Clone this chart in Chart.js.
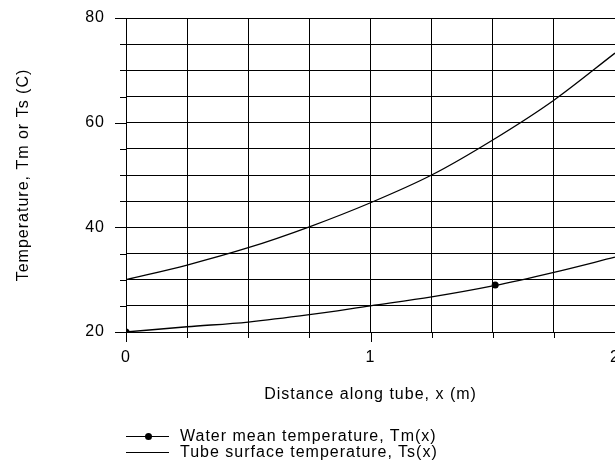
<!DOCTYPE html>
<html>
<head>
<meta charset="utf-8">
<script src="https://cdn.jsdelivr.net/npm/chart.js@4/dist/chart.umd.min.js"></script>
<style>
  html, body { margin: 0; padding: 0; background: #fff; }
  #wrap { position: relative; width: 615px; height: 462px; }
  #chart { position: absolute; left: 0; top: 0; }
  .legend-row {
    position: absolute; left: 126px; height: 16px;
    font: 16px "Liberation Sans", Arial, sans-serif; letter-spacing: 1px; color: #000;
    display: flex; align-items: center; white-space: nowrap;
  }
  .legend-line { position: relative; width: 43px; height: 1px; background: #000; margin-right: 11px; }
  .legend-dot { position: absolute; left: 19px; top: -3px; width: 7px; height: 7px; border-radius: 50%; background: #000; }
</style>
</head>
<body>
<div id="wrap">
  <canvas id="chart" width="615" height="462"></canvas>
  <div class="legend-row" style="top:428px"><span class="legend-line"><span class="legend-dot"></span></span>Water mean temperature, Tm(x)</div>
  <div class="legend-row" style="top:444px"><span class="legend-line"></span>Tube surface temperature, Ts(x)</div>
</div>
<script>
// values
const xValues = [0, 0.25, 0.5, 0.75, 1, 1.25, 1.5, 1.75, 2];
const tmValues = [20, 21.0, 21.9, 23.3, 25.0, 26.7, 28.8, 31.4, 34.3];
const tsValues = [30, 32.8, 36.1, 40.1, 44.7, 50.0, 56.7, 64.3, 73.3];
const markerX = [0, 1.51];
const markerY = [20, 29.0];

const xTickLabels = ['0', '1', '2'];
const yTickLabels = ['20', '40', '60', '80'];

const FONT = { family: '"Liberation Sans", Arial, sans-serif', size: 16 };

// no automatic padding around the axes
function fixBox(size) {
  return s => {
    if (s.isHorizontal()) s.height = size; else s.width = size;
    s.paddingLeft = s.paddingRight = s.paddingTop = s.paddingBottom = 0;
  };
}

// wide letter spacing like the original, plus tick marks
const tickMarks = {
  id: 'tickMarks',
  beforeDraw(chart) {
    chart.ctx.letterSpacing = '1px';
  },
  afterDraw(chart) {
    const { ctx, chartArea } = chart;
    const xs = chart.scales.x, ys = chart.scales.y;
    ctx.save();
    ctx.strokeStyle = '#000';
    ctx.lineWidth = 1;
    ctx.beginPath();
    xs.ticks.forEach(t => {
      const px = Math.round(xs.getPixelForValue(t.value)) + 0.5;
      const len = xTickLabels.includes(String(t.value)) ? 10 : 6;
      ctx.moveTo(px, chartArea.bottom);
      ctx.lineTo(px, chartArea.bottom + len);
    });
    ys.ticks.forEach(t => {
      const py = Math.round(ys.getPixelForValue(t.value)) + 0.5;
      const len = yTickLabels.includes(String(t.value)) ? 11 : 6;
      ctx.moveTo(chartArea.left, py);
      ctx.lineTo(chartArea.left - len, py);
    });
    ctx.stroke();
    ctx.restore();
  }
};

new Chart(document.getElementById('chart'), {
  type: 'line',
  data: {
    datasets: [
      {
        label: 'Water mean temperature, Tm(x)',
        data: xValues.map((x, i) => ({ x, y: tmValues[i] })),
        borderColor: '#000',
        borderWidth: 1.3,
        pointRadius: 0,
        cubicInterpolationMode: 'monotone',
        fill: false
      },
      {
        label: 'Tube surface temperature, Ts(x)',
        data: xValues.map((x, i) => ({ x, y: tsValues[i] })),
        borderColor: '#000',
        borderWidth: 1.3,
        pointRadius: 0,
        cubicInterpolationMode: 'monotone',
        fill: false
      },
      {
        label: 'Tm markers',
        data: markerX.map((x, i) => ({ x, y: markerY[i] })),
        showLine: false,
        pointRadius: 3.5,
        pointBackgroundColor: '#000',
        pointBorderColor: '#000',
        pointBorderWidth: 0
      }
    ]
  },
  options: {
    responsive: false,
    animation: false,
    events: [],
    layout: {
      autoPadding: false,
      padding: { top: 18, left: 0, right: 0, bottom: 58 }
    },
    plugins: {
      legend: { display: false },
      tooltip: { enabled: false }
    },
    scales: {
      x: {
        type: 'linear',
        min: 0,
        max: 2,
        afterFit: fixBox(72),
        grid: { color: '#000', lineWidth: 1, drawTicks: false },
        border: { color: '#000', width: 1 },
        ticks: {
          stepSize: 0.25,
          padding: 16,
          maxRotation: 0,
          autoSkip: false,
          color: '#000',
          font: FONT,
          callback: v => xTickLabels.includes(String(v)) ? String(v) : ''
        },
        title: {
          display: true,
          text: 'Distance along tube, x (m)',
          color: '#000',
          font: FONT,
          padding: { top: 0, bottom: 0 }
        }
      },
      y: {
        type: 'linear',
        min: 20,
        max: 80,
        afterFit: fixBox(126),
        grid: { color: '#000', lineWidth: 1, drawTicks: false },
        border: { color: '#000', width: 1 },
        ticks: {
          stepSize: 5,
          padding: 21,
          autoSkip: false,
          color: '#000',
          font: FONT,
          callback: v => yTickLabels.includes(String(v)) ? String(v) : ''
        },
        title: {
          display: true,
          text: 'Temperature, Tm or Ts (C)',
          color: '#000',
          font: FONT,
          padding: { top: 14, bottom: 0 }
        }
      }
    }
  },
  plugins: [tickMarks]
});
</script>
</body>
</html>
